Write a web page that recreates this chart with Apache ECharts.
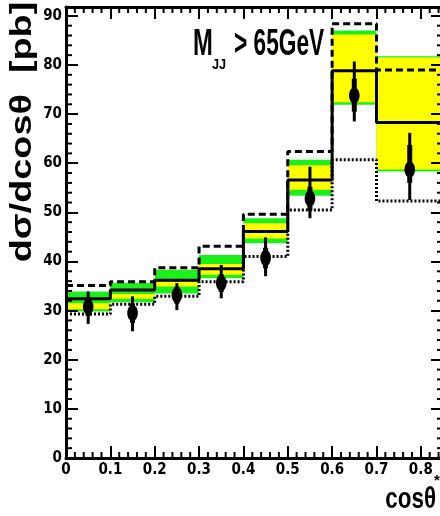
<!DOCTYPE html>
<html>
<head>
<meta charset="utf-8">
<style>
  html, body { margin: 0; padding: 0; background: #ffffff; }
  #chart { width: 440px; height: 516px; }
</style>
<script src="https://cdn.jsdelivr.net/npm/echarts@6/dist/echarts.min.js"></script>
</head>
<body>
<div id="chart"></div>
<script>
// ---------------- data ----------------
const binEdges = [0, 0.1, 0.2, 0.3, 0.4, 0.5, 0.6, 0.7, 0.85];
const xTickLabels = ['0', '0.1', '0.2', '0.3', '0.4', '0.5', '0.6', '0.7', '0.8'];
const yTickLabels = ['0', '10', '20', '30', '40', '50', '60', '70', '80', '90'];

// theory histograms
const centralPred = [32.4, 34.2, 36.2, 38.5, 46.1, 56.6, 78.8, 68.3];
const upperPred   = [35.1, 35.9, 38.7, 43.1, 49.6, 62.4, 88.4, 79.0];
const lowerPred   = [29.3, 31.3, 32.9, 35.9, 41.0, 50.5, 60.7, 52.3];

// uncertainty bands
const greenLo  = [29.8, 31.7, 33.5, 36.6, 43.7, 53.4, 71.9, 58.3];
const greenHi  = [33.9, 35.6, 38.3, 41.3, 48.8, 60.7, 87.0, 81.8];
const yellowLo = [30.3, 32.4, 34.9, 37.3, 44.7, 54.6, 72.4, 58.7];
const yellowHi = [31.5, 33.4, 35.9, 39.5, 47.8, 59.6, 86.2, 81.5];

// measured points
const dataY   = [30.8, 29.5, 33.2, 35.6, 40.7, 52.8, 73.8, 58.7];
const totLo   = [27.3, 25.8, 30.1, 32.5, 37.0, 48.8, 68.5, 52.5];
const totHi   = [33.9, 32.9, 35.6, 39.3, 44.9, 59.3, 80.7, 66.2];
const statLo  = [28.9, 27.5, 31.4, 33.8, 38.6, 50.4, 70.5, 56.0];
const statHi  = [32.7, 31.5, 34.9, 37.4, 42.8, 55.2, 77.2, 63.7];

// axis extents and minor tick steps
const xMin = 0, xMax = 0.85, xMajor = 0.1, xMinorStep = 0.02;
const yMin = 0, yMax = 91.8, yMajor = 10, yMinorStep = 2;

// --------------- helpers ---------------
const nBins = centralPred.length;
const binCentres = centralPred.map((v, i) => (binEdges[i] + binEdges[i + 1]) / 2);
const stepData = vals => binEdges.map((e, i) => [e, vals[Math.min(i, nBins - 1)]]);

function minorValues(step, max, major) {
  const out = [];
  for (let k = 1; k * step < max - 1e-9; k++) {
    const v = Math.round(k * step * 1e6) / 1e6;
    const r = v / major;
    if (Math.abs(r - Math.round(r)) > 1e-6) out.push(v);
  }
  return out;
}
const xMinorTicks = minorValues(xMinorStep, xMax, xMajor);
const yMinorTicks = minorValues(yMinorStep, yMax, yMajor);

const labelFont = '"Liberation Sans Narrow", "DejaVu Sans Condensed", "Liberation Sans", sans-serif';
const titleFont = '"Liberation Sans", Arial, sans-serif';
const MINOR_LEN = 6;

function bandSeries(lo, hi, color) {
  return {
    type: 'custom',
    xAxisIndex: 0, yAxisIndex: 0,
    data: binCentres.map((c, i) => [c, lo[i], hi[i]]),
    renderItem: function (params, api) {
      const i = params.dataIndex;
      const p0 = api.coord([binEdges[i], hi[i]]);
      const p1 = api.coord([binEdges[i + 1], lo[i]]);
      return {
        type: 'rect',
        shape: { x: p0[0], y: p0[1], width: p1[0] - p0[0], height: p1[1] - p0[1] },
        style: { fill: color }
      };
    },
    silent: true, z: 1
  };
}

function stepSeries(vals, dash, z) {
  return {
    type: 'line', step: 'end', xAxisIndex: 0, yAxisIndex: 0,
    data: stepData(vals), symbol: 'none', silent: true, z: z,
    lineStyle: { color: '#000', width: 3, type: dash }
  };
}

function axisX(pos, showLabel) {
  return {
    type: 'value', position: pos, min: xMin, max: xMax, interval: xMajor, z: 20,
    axisLine: { show: true, onZero: false, lineStyle: { color: '#000', width: 3 } },
    axisTick: { show: true, inside: true, length: 12, lineStyle: { color: '#000', width: 2 } },
    splitLine: { show: false },
    axisLabel: {
      show: showLabel, margin: 5, color: '#000', fontSize: 15, fontWeight: 'bold', fontFamily: labelFont,
      showMaxLabel: false,
      formatter: function (v) {
        const k = Math.round(v / xMajor);
        return (Math.abs(v - k * xMajor) < 1e-6 && k < xTickLabels.length) ? xTickLabels[k] : '';
      }
    }
  };
}
function axisY(pos, showLabel) {
  return {
    type: 'value', position: pos, min: yMin, max: yMax, interval: yMajor, z: 20,
    axisLine: { show: true, onZero: false, lineStyle: { color: '#000', width: 3 } },
    axisTick: { show: true, inside: true, length: 12, lineStyle: { color: '#000', width: 2 } },
    splitLine: { show: false },
    axisLabel: {
      show: showLabel, margin: 4, color: '#000', fontSize: 15, fontWeight: 'bold', fontFamily: labelFont,
      showMaxLabel: false,
      formatter: function (v) {
        const k = Math.round(v / yMajor);
        return (Math.abs(v - k * yMajor) < 1e-6 && k < yTickLabels.length) ? yTickLabels[k] : '';
      }
    }
  };
}

const tickStyle = { stroke: '#000', lineWidth: 2 };

const chart = echarts.init(document.getElementById('chart'), null, { renderer: 'canvas' });

const option = {
  backgroundColor: '#ffffff',
  animation: false,
  grid: { left: 66, top: 7, width: 377, height: 451, containLabel: false, outerBoundsMode: 'none' },
  xAxis: [axisX('bottom', true), axisX('top', false)],
  yAxis: [axisY('left', true), axisY('right', false)],
  graphic: [
    {
      type: 'text', x: 23, y: 132, rotation: Math.PI / 2, scaleX: 1.35, scaleY: 1.05,
      style: { text: 'dσ/dcosθ  [pb]', fill: '#000', font: 'bold 28px ' + titleFont, align: 'center', verticalAlign: 'middle' }
    },
    {
      type: 'text', x: 436, y: 500, scaleX: 0.8, scaleY: 1.05,
      style: { text: 'cosθ', fill: '#000', font: 'bold 28px ' + titleFont, align: 'right', verticalAlign: 'middle' }
    },
    {
      type: 'text', x: 437, y: 481,
      style: { text: '*', fill: '#000', font: 'bold 15px ' + titleFont, align: 'center', verticalAlign: 'middle' }
    },
    {
      type: 'text', x: 193, y: 45, scaleX: 0.66, scaleY: 1,
      style: { text: 'M', fill: '#000', font: 'bold 36px ' + titleFont, align: 'left', verticalAlign: 'middle' }
    },
    {
      type: 'text', x: 212, y: 64.5, scaleX: 0.85, scaleY: 1,
      style: { text: 'JJ', fill: '#000', font: 'bold 15px ' + titleFont, align: 'left', verticalAlign: 'middle' }
    },
    {
      type: 'text', x: 234, y: 45, scaleX: 0.63, scaleY: 1,
      style: { text: '> 65GeV', fill: '#000', font: 'bold 36px ' + titleFont, align: 'left', verticalAlign: 'middle' }
    }
  ],
  series: [
    bandSeries(greenLo, greenHi, '#1cf01c'),
    bandSeries(yellowLo, yellowHi, '#ffff00'),
    stepSeries(lowerPred, [2, 2], 3),
    stepSeries(upperPred, [7, 4], 4),
    stepSeries(centralPred, 'solid', 5),
    {
      type: 'custom', xAxisIndex: 0, yAxisIndex: 0, z: 10, silent: true,
      data: binCentres.map((c, i) => [c, dataY[i], totLo[i], totHi[i], statLo[i], statHi[i]]),
      renderItem: function (params, api) {
        const x = api.value(0);
        const pc = api.coord([x, api.value(1)]);
        const pLo = api.coord([x, api.value(2)]);
        const pHi = api.coord([x, api.value(3)]);
        const sLo = api.coord([x, api.value(4)]);
        const sHi = api.coord([x, api.value(5)]);
        return {
          type: 'group',
          children: [
            { type: 'line', shape: { x1: pLo[0], y1: pLo[1], x2: pHi[0], y2: pHi[1] }, style: { stroke: '#000', lineWidth: 3 } },
            { type: 'line', shape: { x1: sLo[0], y1: sLo[1], x2: sHi[0], y2: sHi[1] }, style: { stroke: '#000', lineWidth: 5 } },
            { type: 'ellipse', shape: { cx: pc[0], cy: pc[1], rx: 5.3, ry: 8 }, style: { fill: '#000' } }
          ]
        };
      }
    },
    // minor ticks on bottom and top frame edges (positions from the x scale)
    {
      type: 'custom', xAxisIndex: 0, yAxisIndex: 0, z: 30, silent: true,
      data: xMinorTicks.map(v => [v, yMin]),
      renderItem: function (params, api) {
        const v = api.value(0);
        const b = api.coord([v, yMin]);
        const t = api.coord([v, yMax]);
        return {
          type: 'group',
          children: [
            { type: 'line', shape: { x1: b[0], y1: b[1], x2: b[0], y2: b[1] - MINOR_LEN }, style: tickStyle },
            { type: 'line', shape: { x1: t[0], y1: t[1], x2: t[0], y2: t[1] + MINOR_LEN }, style: tickStyle }
          ]
        };
      }
    },
    // minor ticks on left and right frame edges (positions from the y scale)
    {
      type: 'custom', xAxisIndex: 0, yAxisIndex: 0, z: 30, silent: true,
      data: yMinorTicks.map(v => [xMin, v]),
      renderItem: function (params, api) {
        const v = api.value(1);
        const l = api.coord([xMin, v]);
        const r = api.coord([xMax, v]);
        return {
          type: 'group',
          children: [
            { type: 'line', shape: { x1: l[0], y1: l[1], x2: l[0] + MINOR_LEN, y2: l[1] }, style: tickStyle },
            { type: 'line', shape: { x1: r[0], y1: r[1], x2: r[0] - MINOR_LEN, y2: r[1] }, style: tickStyle }
          ]
        };
      }
    }
  ]
};
chart.setOption(option);
</script>
</body>
</html>
